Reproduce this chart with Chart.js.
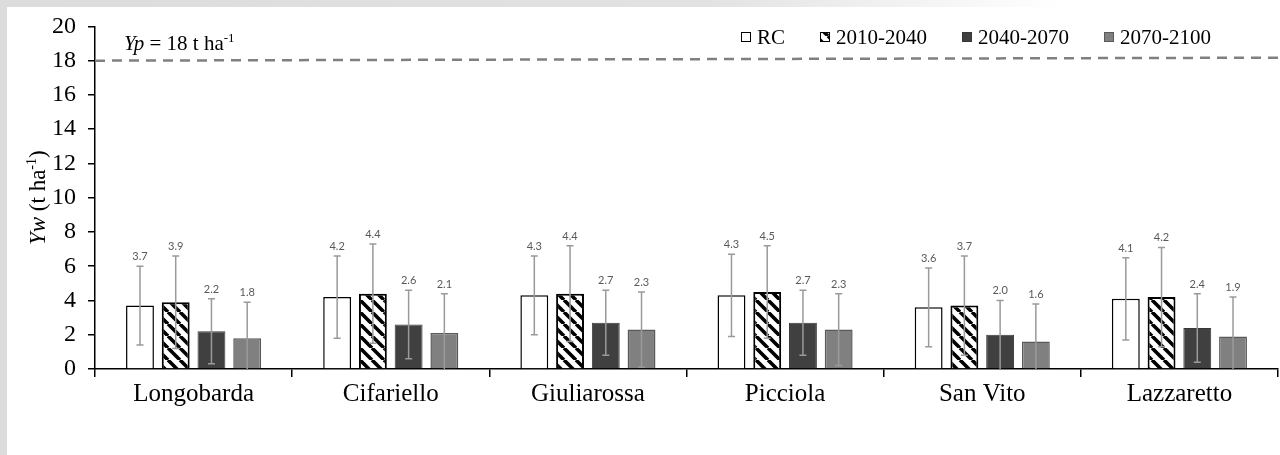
<!DOCTYPE html>
<html>
<head>
<meta charset="utf-8">
<script src="https://cdn.jsdelivr.net/npm/chart.js@4.4.1/dist/chart.umd.min.js"></script>
<style>
  html, body { margin: 0; padding: 0; }
  body { width: 1280px; height: 455px; position: relative; background: #fff; overflow: hidden; }
  .frame-top { position: absolute; left: 0; top: 0; width: 1280px; height: 7px;
    background: linear-gradient(to right, #dcdcdc 0%, #e2e2e2 55%, #ffffff 83%); }
  .frame-left { position: absolute; left: 0; top: 0; width: 7px; height: 455px; background: #dcdcdc; }
  canvas { position: absolute; left: 0; top: 0; }
</style>
</head>
<body>
<div class="frame-top"></div>
<div class="frame-left"></div>
<canvas id="yield-chart" width="1280" height="455"></canvas>
<script>
// Sites on the x axis and climate periods (one series each)
const sites = ['Longobarda', 'Cifariello', 'Giuliarossa', 'Picciola', 'San Vito', 'Lazzaretto'];
const periods = ['RC', '2010-2040', '2040-2070', '2070-2100'];

// Mean water-limited yield Yw (t ha-1)
const ywRC = [3.7, 4.2, 4.3, 4.3, 3.6, 4.1];
const yw2010 = [3.9, 4.4, 4.4, 4.5, 3.7, 4.2];
const yw2040 = [2.2, 2.6, 2.7, 2.7, 2.0, 2.4];
const yw2070 = [1.8, 2.1, 2.3, 2.3, 1.6, 1.9];

// Standard deviations for the error bars
const sdRC = [2.3, 2.4, 2.3, 2.4, 2.3, 2.4];
const sd2010 = [2.7, 2.9, 2.8, 2.7, 2.9, 2.9];
const sd2040 = [1.9, 2.0, 1.9, 1.9, 2.0, 2.0];
const sd2070 = [2.1, 2.3, 2.2, 2.1, 2.2, 2.3];

// Potential yield Yp (t ha-1), dashed reference line
const potentialYield = 18;

// y axis range / tick step
const yMin = 0;
const yMax = 20;
const yStep = 2;

const SERIF = '"Liberation Serif", "Times New Roman", serif';

/**
 * Builds the black diagonal hatch used for 2010-2040
 */
function makeHatch() {
  const size = 12;
  const c = document.createElement('canvas');
  c.width = size;
  c.height = size;
  const g = c.getContext('2d');
  g.fillStyle = '#fff';
  g.fillRect(0, 0, size, size);
  g.strokeStyle = '#000';
  g.lineWidth = 3.6;
  g.beginPath();
  [-size, 0, size].forEach((k) => {
    g.moveTo(k, 0);
    g.lineTo(k + size, size);
  });
  g.stroke();
  return g.createPattern(c, 'repeat');
}

/**
 * Draws text made of several pieces with their own font (italic, superscript)
 */
function drawRichText(ctx, parts, x, y) {
  let cx = x;
  parts.forEach((p) => {
    ctx.font = p.font;
    ctx.fillText(p.text, cx, y + (p.dy || 0));
    cx += ctx.measureText(p.text).width;
  });
}

function measureRichText(ctx, parts) {
  let w = 0;
  parts.forEach((p) => {
    ctx.font = p.font;
    w += ctx.measureText(p.text).width;
  });
  return w;
}

const hatch = makeHatch();

const datasets = [
  { label: periods[0], data: ywRC, sd: sdRC, backgroundColor: '#ffffff', borderColor: '#000000', borderWidth: 1.5 },
  { label: periods[1], data: yw2010, sd: sd2010, backgroundColor: hatch, borderColor: '#000000', borderWidth: 2 },
  { label: periods[2], data: yw2040, sd: sd2040, backgroundColor: '#404040', borderColor: '#383838', borderWidth: 1 },
  { label: periods[3], data: yw2070, sd: sd2070, backgroundColor: '#808080', borderColor: '#595959', borderWidth: 1.5 },
].map((ds) => ({ ...ds, categoryPercentage: 0.725, barPercentage: 0.78 }));

// Dashed Yp line with its label
const potentialLine = {
  id: 'potentialLine',
  beforeDatasetsDraw(chart) {
    const { ctx, chartArea } = chart;
    const y = chart.scales.y.getPixelForValue(potentialYield);
    ctx.save();
    ctx.strokeStyle = '#808080';
    ctx.lineWidth = 2.5;
    ctx.setLineDash([10, 7]);
    ctx.beginPath();
    ctx.moveTo(chartArea.left, y);
    ctx.lineTo(chart.width, y - 3);
    ctx.stroke();
    ctx.setLineDash([]);

    ctx.fillStyle = '#000';
    ctx.textBaseline = 'alphabetic';
    drawRichText(ctx, [
      { text: 'Yp', font: `italic 21px ${SERIF}` },
      { text: ` = ${potentialYield} t ha`, font: `21px ${SERIF}` },
      { text: '-1', font: `13px ${SERIF}`, dy: -8 },
    ], chartArea.left + 29, y - 11);
    ctx.restore();
  },
};

// Error bars and mean labels above them
const errorBars = {
  id: 'errorBars',
  afterDatasetsDraw(chart) {
    const { ctx } = chart;
    const yScale = chart.scales.y;
    ctx.save();
    chart.data.datasets.forEach((ds, i) => {
      const meta = chart.getDatasetMeta(i);
      meta.data.forEach((bar, j) => {
        const mean = ds.data[j];
        const sd = ds.sd[j];
        const top = yScale.getPixelForValue(mean + sd);
        const low = mean - sd;
        const bottom = yScale.getPixelForValue(Math.max(yMin, low));
        ctx.strokeStyle = '#9a9a9a';
        ctx.lineWidth = 1.5;
        ctx.beginPath();
        ctx.moveTo(bar.x, top);
        ctx.lineTo(bar.x, bottom);
        ctx.moveTo(bar.x - 3.5, top);
        ctx.lineTo(bar.x + 3.5, top);
        if (low > yMin) {
          ctx.moveTo(bar.x - 3.5, bottom);
          ctx.lineTo(bar.x + 3.5, bottom);
        }
        ctx.stroke();

        ctx.fillStyle = '#595959';
        ctx.font = '11px Lato, "Open Sans", sans-serif';
        ctx.textAlign = 'center';
        ctx.textBaseline = 'alphabetic';
        ctx.fillText(mean.toFixed(1), bar.x, top - 6);
      });
    });
    ctx.restore();
  },
};

// Legend in the top right corner of the plot + rotated y title
const decorations = {
  id: 'decorations',
  afterDraw(chart) {
    const { ctx, chartArea } = chart;
    ctx.save();

    // legend
    let x = chartArea.left + 646;
    const cy = 37;
    ctx.font = `21px ${SERIF}`;
    ctx.textBaseline = 'alphabetic';
    chart.data.datasets.forEach((ds) => {
      ctx.fillStyle = ds.backgroundColor;
      ctx.fillRect(x, cy - 5, 10, 10);
      ctx.strokeStyle = ds.borderColor;
      ctx.lineWidth = 1;
      ctx.strokeRect(x + 0.5, cy - 4.5, 9, 9);
      ctx.fillStyle = '#000';
      ctx.fillText(ds.label, x + 16, cy + 7);
      x += 16 + ctx.measureText(ds.label).width + 35;
    });

    // y axis title: Yw (t ha-1)
    const parts = [
      { text: 'Yw', font: `italic 23px ${SERIF}` },
      { text: ' (t ha', font: `23px ${SERIF}` },
      { text: '-1', font: `14px ${SERIF}`, dy: -9 },
      { text: ')', font: `23px ${SERIF}` },
    ];
    const w = measureRichText(ctx, parts);
    ctx.translate(45, (chartArea.top + chartArea.bottom) / 2);
    ctx.rotate(-Math.PI / 2);
    ctx.fillStyle = '#000';
    drawRichText(ctx, parts, -w / 2, 0);
    ctx.restore();
  },
};

const canvas = document.getElementById('yield-chart');
const chart = new Chart(canvas.getContext('2d'), {
  type: 'bar',
  data: {
    labels: sites,
    datasets,
  },
  options: {
    responsive: false,
    animation: false,
    layout: { padding: { left: 0, right: 2, top: 26, bottom: 0 } },
    plugins: {
      legend: { display: false },
      tooltip: { enabled: false },
    },
    scales: {
      x: {
        grid: {
          offset: true,
          drawOnChartArea: false,
          drawTicks: true,
          tickLength: 8,
          color: '#000',
          lineWidth: 1.5,
        },
        border: { color: '#000', width: 1.5 },
        ticks: { color: '#000', font: { family: SERIF, size: 25 }, padding: 2 },
        afterFit(scale) { scale.height = 86; },
      },
      y: {
        min: yMin,
        max: yMax,
        ticks: { stepSize: yStep, color: '#000', font: { family: SERIF, size: 24 }, padding: 12 },
        grid: {
          drawOnChartArea: false,
          drawTicks: true,
          tickLength: 7,
          color: '#000',
          lineWidth: 1.5,
        },
        border: { color: '#000', width: 1.5 },
        afterFit(scale) { scale.width = 95; },
      },
    },
  },
  plugins: [potentialLine, errorBars, decorations],
});
</script>
</body>
</html>
